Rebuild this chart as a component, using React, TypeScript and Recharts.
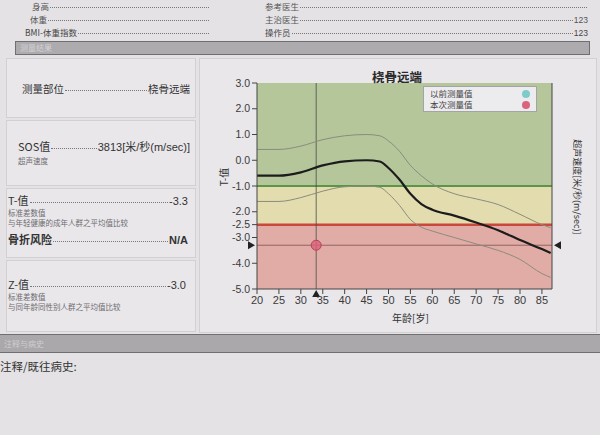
import React from "react";
import {
  ComposedChart,
  Line,
  Scatter,
  XAxis,
  YAxis,
  ReferenceArea,
  ReferenceLine,
  Legend,
} from "recharts";

// reference curve for radius (T-score by age)
const ages = [20, 25, 30, 35, 40, 45, 48, 50, 52.5, 55, 57.5, 60, 65, 70, 75, 80, 85, 87];
const meanT = [-0.6, -0.6, -0.47, -0.2, -0.04, 0.0, -0.05, -0.3, -0.75, -1.3, -1.7, -1.92, -2.15, -2.42, -2.72, -3.1, -3.45, -3.6];
const upperT = [0.42, 0.42, 0.55, 0.8, 0.95, 1.0, 0.95, 0.75, 0.35, -0.2, -0.6, -0.92, -1.3, -1.5, -1.72, -2.1, -2.5, -2.62];
const lowerT = [-1.6, -1.6, -1.45, -1.2, -1.03, -1.0, -1.05, -1.3, -1.75, -2.3, -2.6, -2.75, -3.0, -3.25, -3.5, -3.85, -4.4, -4.55];

const currentAge = [33.5];
const currentT = [-3.3];
const previousAge: number[] = [];
const previousT: number[] = [];

const xTicks = [20, 25, 30, 35, 40, 45, 50, 55, 60, 65, 70, 75, 80, 85];
const tTicks = [3, 2, 1, 0, -1, -2, -2.5, -3, -4, -5];
const sosTicks = [4530, 4416, 4302, 4188, 4074, 3960, 3846, 3732, 3618];

const chartData = ages.map((age, i) => ({
  age,
  mean: meanT[i],
  upper: upperT[i],
  lower: lowerT[i],
}));
const currentData = currentAge.map((age, i) => ({ age, t: currentT[i] }));
const previousData = previousAge.map((age, i) => ({ age, t: previousT[i] }));

const cjk = '"Noto Sans CJK SC", "Liberation Sans", sans-serif';
const latin = '"Liberation Sans", "Noto Sans CJK SC", sans-serif';

function Leader({
  label,
  value,
  top,
  left,
  right,
  size = 11,
  bold = false,
  color = "#333",
}: {
  label: string;
  value?: string;
  top: number;
  left: number;
  right: number;
  size?: number;
  bold?: boolean;
  color?: string;
}) {
  const lh = Math.round(size * 1.15);
  return (
    <div
      style={{
        position: "absolute",
        top: top - lh / 2,
        left,
        width: right - left,
        height: lh,
        display: "flex",
        alignItems: "baseline",
        fontSize: size,
        fontWeight: bold ? 700 : 400,
        color,
        fontFamily: cjk,
        lineHeight: `${lh}px`,
        whiteSpace: "nowrap",
      }}
    >
      <span>{label}</span>
      <span
        style={{
          flex: 1,
          borderBottom: "1px dotted #777",
          margin: "0 1px",
          transform: "translateY(-2px)",
        }}
      />
      {value && <span style={{ fontFamily: latin }}>{value}</span>}
    </div>
  );
}

function Note({ text, top, left }: { text: string; top: number; left: number }) {
  return (
    <div
      style={{
        position: "absolute",
        top: top - 5,
        left,
        fontSize: 7.5,
        lineHeight: "10px",
        color: "#6e6c70",
        fontFamily: cjk,
        whiteSpace: "nowrap",
      }}
    >
      {text}
    </div>
  );
}

function HLineMarks(props: any) {
  const { x, y, width } = props.viewBox;
  const r = x + width;
  return (
    <g fill="#222">
      <polygon points={`${x - 9},${y - 4} ${x - 9},${y + 4} ${x - 2},${y}`} />
      <polygon points={`${r + 9},${y - 4} ${r + 9},${y + 4} ${r + 2},${y}`} />
    </g>
  );
}

function VLineMark(props: any) {
  const { x, y, height } = props.viewBox;
  const b = y + height;
  return (
    <polygon
      fill="#222"
      points={`${x - 4},${b + 8} ${x + 4},${b + 8} ${x},${b + 1}`}
    />
  );
}

function LegendBox(props: any) {
  const items = (props.payload || []).filter(
    (it: any) => it.type !== "none" && (it.value === "以前测量值" || it.value === "本次测量值")
  );
  return (
    <div
      style={{
        width: 112,
        border: "1px solid #a5a3a6",
        background: "#ecebee",
        padding: "1px 0 1px 0",
        fontFamily: cjk,
        fontSize: 8.5,
        color: "#444",
        lineHeight: "11px",
      }}
    >
      {items.map((it: any) => (
        <div
          key={it.value}
          style={{ display: "flex", justifyContent: "space-between", padding: "0 6px 0 6px" }}
        >
          <span>{it.value}</span>
          <span
            style={{
              width: 8,
              height: 8,
              borderRadius: 4,
              background: it.color,
              marginTop: 1.5,
            }}
          />
        </div>
      ))}
    </div>
  );
}

export default function App() {
  return (
    <div
      style={{
        position: "absolute",
        left: 0,
        top: 0,
        width: 600,
        height: 435,
        background: "#e4e2e5",
        overflow: "hidden",
      }}
    >
      {/* header */}
      <Leader label="身高" top={6} left={32} right={210} size={8.5} color="#555" />
      <Leader label="体重" top={19} left={30} right={210} size={8.5} color="#555" />
      <Leader label="BMI-体重指数" top={32} left={25} right={210} size={8.5} color="#444" />
      <Leader label="参考医生" top={6} left={265} right={588} size={8.5} color="#555" />
      <Leader label="主治医生" top={19} left={265} right={588} value="123" size={8.5} color="#555" />
      <Leader label="操作员" top={32} left={265} right={588} value="123" size={8.5} color="#444" />

      <div
        style={{
          position: "absolute",
          left: 15,
          top: 41,
          width: 575,
          height: 14,
          background: "#adabae",
          border: "1px solid #6f6e70",
          fontFamily: cjk,
          fontSize: 8,
          color: "#d4d2d5",
          lineHeight: "12px",
          paddingLeft: 4,
          boxSizing: "border-box",
        }}
      >
        测量结果
      </div>

      {/* left column boxes */}
      {[
        [58, 60],
        [120, 66],
        [188, 70],
        [260, 72],
      ].map(([t, h]) => (
        <div
          key={t}
          style={{
            position: "absolute",
            left: 6,
            top: t,
            width: 190,
            height: h,
            border: "1px solid #d2d0d3",
            background: "#e9e7ea",
            boxSizing: "border-box",
          }}
        />
      ))}
      <div
        style={{
          position: "absolute",
          left: 199,
          top: 58,
          width: 398,
          height: 275,
          border: "1px solid #d2d0d3",
          background: "#e9e7ea",
          boxSizing: "border-box",
        }}
      />

      <Leader label="测量部位" value="桡骨远端" top={89} left={22} right={190} size={10.5} />
      <Leader label="SOS值" value="3813[米/秒(m/sec)]" top={146} left={18} right={190} size={11} />
      <Note text="超声速度" top={161} left={18} />
      <Leader label="T-值" value="-3.3" top={200} left={8} right={188} size={11} />
      <Note text="标准差数值" top={213} left={8} />
      <Note text="与年轻健康的成年人群之平均值比较" top={223} left={8} />
      <Leader label="骨折风险" value="N/A" top={239} left={8} right={188} size={11} bold />
      <Leader label="Z-值" value="-3.0" top={284} left={8} right={186} size={11} />
      <Note text="标准差数值" top={297} left={8} />
      <Note text="与同年龄同性别人群之平均值比较" top={307} left={8} />

      {/* chart */}
      <div style={{ position: "absolute", left: 200, top: 58, width: 400, height: 275 }}>
        <div
          style={{
            position: "absolute",
            left: 147,
            top: 9,
            width: 100,
            textAlign: "center",
            fontFamily: cjk,
            fontWeight: 700,
            fontSize: 12.5,
            color: "#2a2a2a",
            zIndex: 2,
          }}
        >
          桡骨远端
        </div>
        <ComposedChart
          width={400}
          height={275}
          data={chartData}
          margin={{ top: 25, right: 8, bottom: 14, left: 12 }}
        >
          <ReferenceArea yAxisId="t" y1={-1} y2={3} fill="#b5c69b" fillOpacity={1} />
          <ReferenceArea yAxisId="t" y1={-2.5} y2={-1} fill="#e3dcae" fillOpacity={1} />
          <ReferenceArea yAxisId="t" y1={-5} y2={-2.5} fill="#e2aca6" fillOpacity={1} />
          <XAxis
            dataKey="age"
            type="number"
            domain={[20, 87.3]}
            ticks={xTicks}
            interval={0}
            allowDataOverflow
            height={30}
            tickSize={5}
            tick={{ fontSize: 11, fill: "#3a3a3a", fontFamily: latin }}
            axisLine={{ stroke: "#444" }}
            tickLine={{ stroke: "#444" }}
            label={{
              content: (p: any) => (
                <text
                  x={p.viewBox.x + p.viewBox.width / 2 + 6}
                  y={p.viewBox.y + 28}
                  textAnchor="middle"
                  dominantBaseline="central"
                  fontSize={10}
                  fontFamily={cjk}
                  fill="#333"
                >
                  年龄[岁]
                </text>
              ),
            }}
          />
          <YAxis
            yAxisId="t"
            type="number"
            domain={[-5, 3]}
            ticks={tTicks}
            interval={0}
            width={45}
            tickSize={5}
            tickFormatter={(v: number) => v.toFixed(1)}
            tick={{ fontSize: 10.5, fill: "#3a3a3a", fontFamily: latin }}
            axisLine={{ stroke: "#444" }}
            tickLine={{ stroke: "#444" }}
            label={{
              content: (p: any) => {
                const cx = p.viewBox.x + 11;
                const cy = p.viewBox.y + p.viewBox.height / 2 - 9;
                return (
                  <text
                    x={cx}
                    y={cy}
                    transform={`rotate(-90 ${cx} ${cy})`}
                    textAnchor="middle"
                    dominantBaseline="central"
                    fontSize={10}
                    fontFamily={cjk}
                    fill="#333"
                  >
                    T-值
                  </text>
                );
              },
            }}
          />
          <YAxis
            yAxisId="sos"
            orientation="right"
            type="number"
            domain={[3618, 4530]}
            ticks={sosTicks}
            interval={0}
            width={40}
            tickSize={4}
            tick={{ fontSize: 9.5, fill: "#3a3a3a", fontFamily: latin }}
            axisLine={{ stroke: "#444" }}
            tickLine={{ stroke: "#444" }}
            label={{
              content: (p: any) => {
                const cx = p.viewBox.x + 25;
                const cy = p.viewBox.y + p.viewBox.height / 2 + 1;
                return (
                  <text
                    x={cx}
                    y={cy}
                    transform={`rotate(90 ${cx} ${cy})`}
                    textAnchor="middle"
                    dominantBaseline="central"
                    fontSize={9}
                    fontFamily={cjk}
                    fill="#333"
                  >
                    超声速度[米/秒(m/sec)]
                  </text>
                );
              },
            }}
          />
          <ReferenceLine yAxisId="t" y={-1} stroke="#5b9548" strokeWidth={2} />
          <ReferenceLine yAxisId="t" y={-2.5} stroke="#c9473d" strokeWidth={2.5} />
          <ReferenceLine
            yAxisId="t"
            y={currentT[0]}
            stroke="#7c5250"
            strokeWidth={0.8}
            label={<HLineMarks />}
          />
          <ReferenceLine
            yAxisId="t"
            x={currentAge[0]}
            stroke="#4a4a4a"
            strokeWidth={0.8}
            label={<VLineMark />}
          />
          <Line
            yAxisId="t"
            type="monotone"
            dataKey="upper"
            stroke="#8b8c7c"
            strokeWidth={1}
            dot={false}
            legendType="none"
            isAnimationActive={false}
          />
          <Line
            yAxisId="t"
            type="monotone"
            dataKey="lower"
            stroke="#8b8c7c"
            strokeWidth={1}
            dot={false}
            legendType="none"
            isAnimationActive={false}
          />
          <Line
            yAxisId="t"
            type="monotone"
            dataKey="mean"
            stroke="#1c1c1c"
            strokeWidth={2.2}
            dot={false}
            legendType="none"
            isAnimationActive={false}
          />
          <Scatter
            yAxisId="t"
            name="以前测量值"
            data={previousData}
            dataKey="t"
            fill="#7fcaca"
            isAnimationActive={false}
          />
          <Scatter
            yAxisId="t"
            name="本次测量值"
            data={currentData}
            dataKey="t"
            fill="#d9647c"
            stroke="#b8405a"
            strokeWidth={1}
            shape={(p: any) => (
              <circle cx={p.cx} cy={p.cy} r={5} fill="#d9647c" fillOpacity={0.85} stroke="#b8405a" />
            )}
            isAnimationActive={false}
          />
          <Legend
            layout="vertical"
            align="center"
            verticalAlign="middle"
            content={<LegendBox />}
            wrapperStyle={{ left: 223, top: 28, width: 114, height: 26 }}
          />
        </ComposedChart>
      </div>

      {/* lower section */}
      <div
        style={{
          position: "absolute",
          left: 0,
          top: 334,
          width: 600,
          height: 19,
          background: "#aaa8ab",
          borderTop: "1px solid #6f6e70",
          borderBottom: "1px solid #6f6e70",
          fontFamily: cjk,
          fontSize: 8,
          color: "#d0ced1",
          lineHeight: "17px",
          paddingLeft: 4,
          boxSizing: "border-box",
        }}
      >
        注释与病史
      </div>
      <div
        style={{
          position: "absolute",
          left: 0,
          top: 358,
          fontFamily: cjk,
          fontSize: 11.5,
          color: "#333",
          whiteSpace: "nowrap",
        }}
      >
        注释/既往病史:
      </div>
    </div>
  );
}
